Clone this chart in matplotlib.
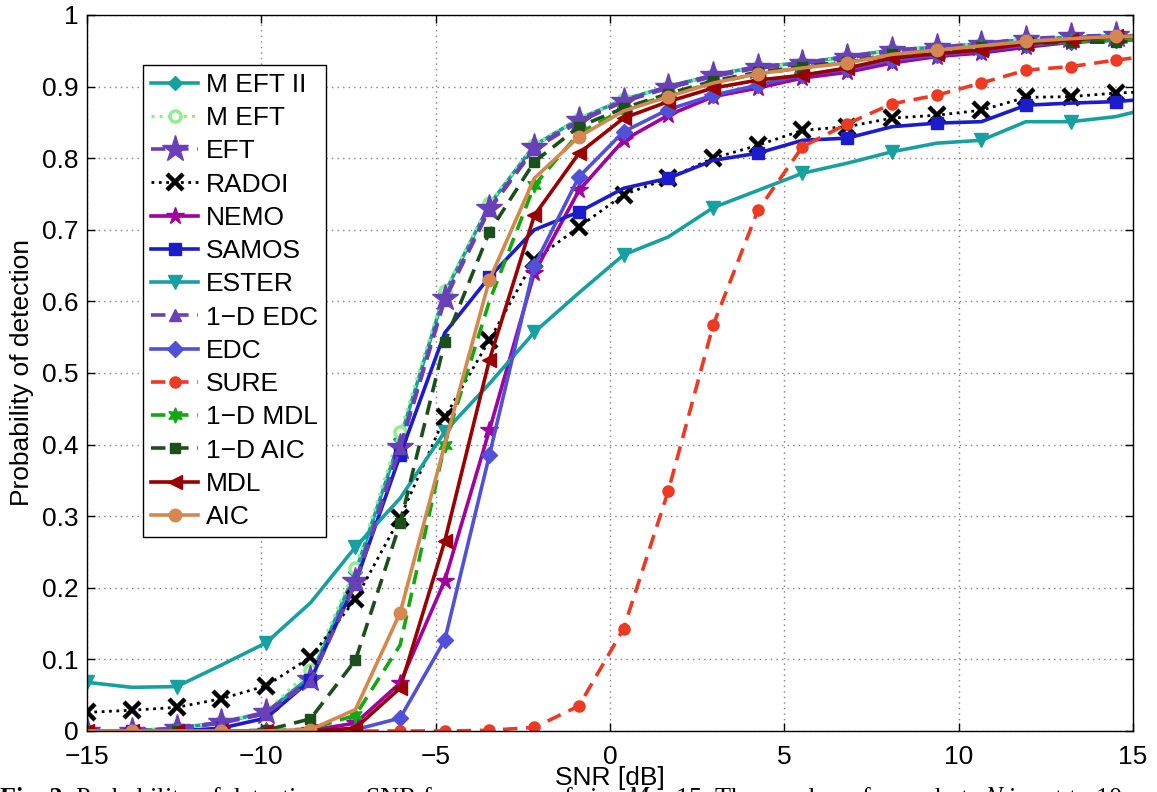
import matplotlib
matplotlib.use("Agg")
import matplotlib.pyplot as plt

plt.rcParams["font.family"] = ["Liberation Sans", "DejaVu Sans"]
plt.rcParams["mathtext.fontset"] = "stix"

# SNR grid in dB, the last entry is where the lines run into the right border
snr = [-15.0, -13.72, -12.43, -11.15, -9.87, -8.59, -7.30, -6.02, -4.74, -3.46,
       -2.17, -0.89, 0.39, 1.67, 2.96, 4.24, 5.52, 6.80, 8.09, 9.37,
       10.65, 11.93, 13.22, 14.50, 15.0]

# probability of detection
m_eft2 = [0, 0, 0.004, 0.012, 0.026, 0.076, 0.222, 0.408, 0.612, 0.735,
          0.818, 0.855, 0.882, 0.90, 0.916, 0.928, 0.933, 0.942, 0.951, 0.955,
          0.96, 0.966, 0.969, 0.971, 0.971]
m_eft = [0, 0, 0.004, 0.012, 0.027, 0.085, 0.228, 0.418, 0.615, 0.737,
         0.818, 0.855, 0.882, 0.90, 0.916, 0.928, 0.933, 0.942, 0.951, 0.955,
         0.96, 0.966, 0.969, 0.971, 0.971]
eft = [0, 0, 0.004, 0.012, 0.026, 0.072, 0.21, 0.397, 0.605, 0.73,
       0.815, 0.853, 0.88, 0.90, 0.916, 0.928, 0.933, 0.942, 0.951, 0.955,
       0.96, 0.967, 0.97, 0.972, 0.972]
radoi = [0.026, 0.029, 0.033, 0.045, 0.063, 0.103, 0.184, 0.298, 0.438, 0.546,
         0.658, 0.704, 0.749, 0.772, 0.80, 0.818, 0.839, 0.844, 0.856, 0.86,
         0.867, 0.885, 0.886, 0.891, 0.892]
nemo = [0, 0, 0, 0, 0, 0.001, 0.011, 0.067, 0.21, 0.42,
        0.64, 0.755, 0.825, 0.86, 0.886, 0.898, 0.912, 0.92, 0.933, 0.942,
        0.947, 0.955, 0.962, 0.965, 0.965]
samos = [0, 0, 0, 0.004, 0.018, 0.071, 0.207, 0.385, 0.556, 0.634,
         0.70, 0.725, 0.758, 0.772, 0.797, 0.807, 0.825, 0.828, 0.844, 0.849,
         0.851, 0.874, 0.877, 0.879, 0.881]
ester = [0.068, 0.061, 0.062, 0.092, 0.123, 0.179, 0.257, 0.325, 0.418, 0.485,
         0.557, 0.612, 0.665, 0.69, 0.731, 0.755, 0.779, 0.793, 0.809, 0.821,
         0.825, 0.851, 0.851, 0.858, 0.864]
edc_1d = [0, 0, 0.003, 0.011, 0.024, 0.07, 0.206, 0.395, 0.602, 0.728,
          0.813, 0.851, 0.879, 0.898, 0.914, 0.926, 0.931, 0.94, 0.949, 0.953,
          0.958, 0.965, 0.968, 0.97, 0.97]
edc = [0, 0, 0, 0, 0, 0, 0.002, 0.018, 0.127, 0.385,
       0.65, 0.774, 0.837, 0.868, 0.888, 0.902, 0.916, 0.924, 0.937, 0.944,
       0.95, 0.958, 0.962, 0.965, 0.965]
sure = [0, 0, 0, 0, 0, 0, 0, 0, 0, 0.001,
        0.005, 0.035, 0.143, 0.335, 0.567, 0.727, 0.816, 0.848, 0.876, 0.888,
        0.905, 0.923, 0.928, 0.937, 0.94]
mdl_1d = [0, 0, 0, 0, 0, 0.003, 0.022, 0.12, 0.40, 0.60,
          0.762, 0.835, 0.868, 0.888, 0.905, 0.918, 0.926, 0.934, 0.944, 0.95,
          0.955, 0.96, 0.963, 0.965, 0.965]
aic_1d = [0, 0, 0, 0, 0.001, 0.017, 0.099, 0.29, 0.543, 0.697,
          0.795, 0.844, 0.87, 0.89, 0.908, 0.92, 0.928, 0.935, 0.945, 0.95,
          0.955, 0.96, 0.962, 0.962, 0.963]
mdl = [0, 0, 0, 0, 0, 0, 0.004, 0.06, 0.265, 0.518,
       0.72, 0.807, 0.856, 0.879, 0.898, 0.909, 0.916, 0.926, 0.94, 0.946,
       0.951, 0.96, 0.965, 0.97, 0.97]
aic = [0, 0, 0, 0, 0, 0.002, 0.03, 0.165, 0.40, 0.63,
       0.772, 0.83, 0.866, 0.886, 0.905, 0.918, 0.926, 0.933, 0.945, 0.951,
       0.957, 0.963, 0.967, 0.97, 0.97]

x_ticks = [-15, -10, -5, 0, 5, 10, 15]
y_ticks = [0, 0.1, 0.2, 0.3, 0.4, 0.5, 0.6, 0.7, 0.8, 0.9, 1]
y_tick_labels = ["0", "0.1", "0.2", "0.3", "0.4", "0.5", "0.6", "0.7", "0.8", "0.9", "1"]

caption_head = "Fig. 2."
caption_body = r" Probability of detection vs. SNR for an array of size $M$ = 15. The number of snapshots $N$ is set to 10"

fig = plt.figure(figsize=(11.57, 7.92), dpi=100)
ax = fig.add_axes([87 / 1157, 61 / 792, 1046 / 1157, 716 / 792])

# markers sit on every point, or on every other one like in the original
every = slice(0, 24)
even = slice(0, 24, 2)
odd = slice(1, 24, 2)
dash = (0, (4, 2.4))

ax.plot(snr, m_eft2, color="#17a0a0", lw=2.6, marker="D", ms=7, markevery=every, label="M EFT II")
ax.plot(snr, m_eft, color="#90ee90", lw=2.2, ls=":", marker="o", ms=8, mfc="white",
        mec="#90ee90", mew=2.5, markevery=every, label="M EFT")
ax.plot(snr, eft, color="#6a40b8", lw=2.6, ls=dash, marker="*", ms=20, markevery=every, label="EFT")
ax.plot(snr, radoi, color="black", lw=2, ls=":", marker="x", ms=11, mew=3.2, markevery=every, label="RADOI")
ax.plot(snr, nemo, color="#a000a0", lw=2.6, marker="*", ms=13, markevery=every, label="NEMO")
ax.plot(snr, samos, color="#1c1ccc", lw=2.6, marker="s", ms=8, markevery=odd, label="SAMOS")
ax.plot(snr, ester, color="#17a0a0", lw=2.6, marker="v", ms=10, markevery=even, label="ESTER")
ax.plot(snr, edc_1d, color="#6a40b8", lw=2.6, ls=dash, marker="^", ms=9, markevery=every, label="1\u2212D EDC")
ax.plot(snr, edc, color="#5050d8", lw=2.6, marker="D", ms=8, markevery=every, label="EDC")
ax.plot(snr, sure, color="#ee3a22", lw=2.6, ls=dash, marker="o", ms=8, markevery=every, label="SURE")
ax.plot(snr, mdl_1d, color="#12a812", lw=2.6, ls=dash, marker=(6, 1, 0), ms=11, markevery=even, label="1\u2212D MDL")
ax.plot(snr, aic_1d, color="#1b4f1b", lw=2.6, ls=dash, marker="s", ms=7, markevery=every, label="1\u2212D AIC")
ax.plot(snr, mdl, color="#990000", lw=2.6, marker="<", ms=10, markevery=every, label="MDL")
ax.plot(snr, aic, color="#d4874e", lw=2.6, marker="o", ms=9, markevery=odd, label="AIC")

ax.set_xlim(-15, 15)
ax.set_ylim(0, 1)
ax.set_xticks(x_ticks)
ax.set_yticks(y_ticks)
ax.set_yticklabels(y_tick_labels)
ax.tick_params(direction="in", top=True, right=True, labelsize=19, length=6, width=1)
ax.tick_params(axis="x", pad=10)
ax.tick_params(axis="y", pad=6)
ax.grid(True, color="#808080", lw=1, ls=(0, (1, 3)))
for s in ax.spines.values():
    s.set_linewidth(1)
    s.set_color("black")

ax.set_xlabel("SNR [dB]", fontsize=19, labelpad=-2)
ax.set_ylabel("Probability of detection", fontsize=19, labelpad=6)

leg = ax.legend(loc="upper left", bbox_to_anchor=(143 / 1157, 1 - 65 / 792),
                bbox_transform=fig.transFigure, fontsize=19, fancybox=False,
                edgecolor="black", framealpha=1, borderpad=0.3, labelspacing=0.35,
                handlelength=1.8, handletextpad=0.3, borderaxespad=0, numpoints=1)
leg.get_frame().set_linewidth(1)

# caption of the paper, cut off by the bottom edge
cap_y = -13 / 792
head = fig.text(0.0, cap_y, caption_head, fontsize=18.8, family="Liberation Serif",
                weight="bold", ha="left", va="baseline")
fig.canvas.draw()
head_box = head.get_window_extent()
fig.text(head_box.x1 / fig.bbox.width, cap_y, caption_body, fontsize=18.8,
         family="Liberation Serif", ha="left", va="baseline")

fig.savefig("out.png", dpi=100)
